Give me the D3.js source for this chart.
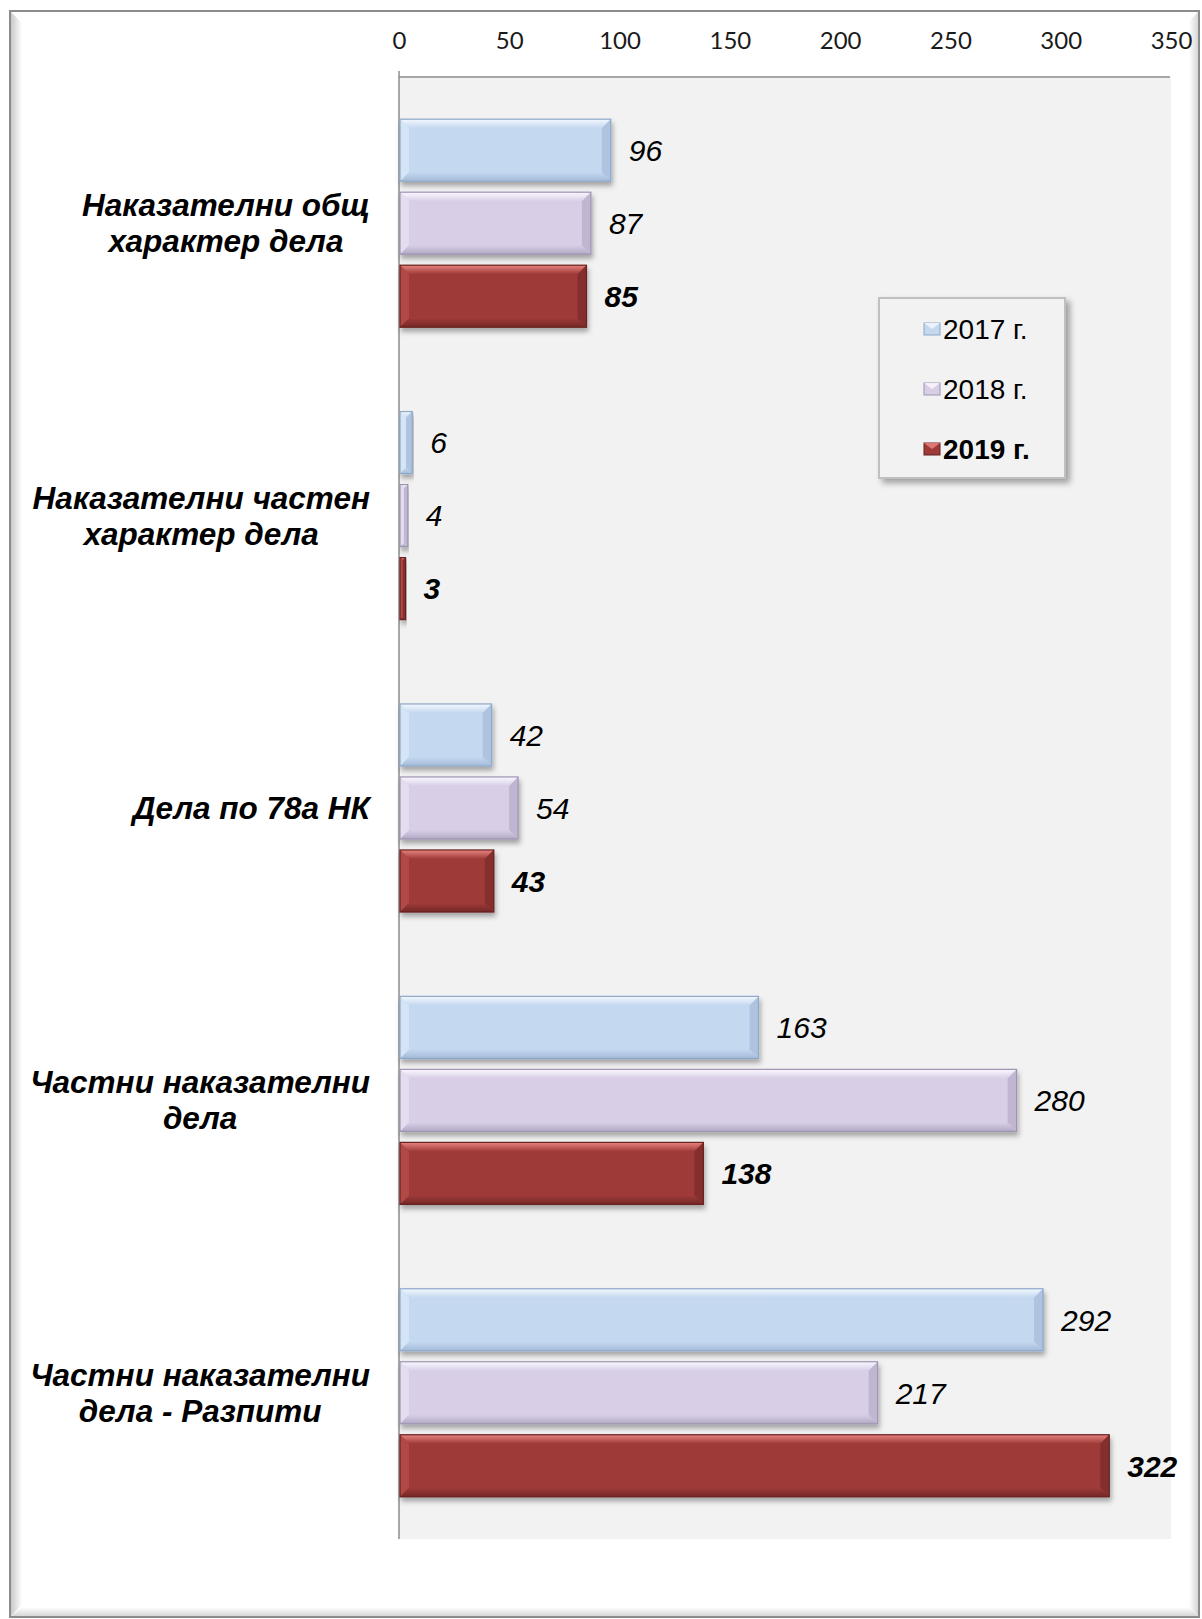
<!DOCTYPE html>
<html>
<head>
<meta charset="utf-8">
<script src="https://cdn.jsdelivr.net/npm/d3@7/dist/d3.min.js"></script>
<style>
  html, body { margin: 0; padding: 0; background: #ffffff; }
  svg { display: block; }
</style>
</head>
<body>
<svg id="chart" width="1202" height="1619"></svg>
<script>
// ---------- DATA ----------
const categories = [
  ["Наказателни общ", "характер дела"],
  ["Наказателни частен", "характер дела"],
  ["Дела по 78а НК"],
  ["Частни наказателни", "дела"],
  ["Частни наказателни", "дела - Разпити"]
];
const seriesNames = ["2017 г.", "2018 г.", "2019 г."];
const values2017 = [96, 6, 42, 163, 292];
const values2018 = [87, 4, 54, 280, 217];
const values2019 = [85, 3, 43, 138, 322];
const tickValues = [0, 50, 100, 150, 200, 250, 300, 350];

const seriesValues = [values2017, values2018, values2019];

// ---------- STYLE ----------
const FONT = "'Liberation Sans', Arimo, Arial, sans-serif";
const palette = [
  { main: "#c4d8f0", light: "#f3f8fe", left: "#d6e5f6", dark: "#a3bbd8", right: "#adc3df", stroke: "#8ea8c8" },
  { main: "#d8cfe7", light: "#fbf8ff", left: "#e4ddf0", dark: "#b2a8c4", right: "#c0b6d2", stroke: "#9e94b1" },
  { main: "#9e3b39", light: "#e8837f", left: "#b14a47", dark: "#742725", right: "#842f2d", stroke: "#672120" }
];

const svg = d3.select("#chart");

const defs = svg.append("defs");
const shadow = defs.append("filter").attr("id", "barShadow")
  .attr("x", "-5%").attr("y", "-20%").attr("width", "115%").attr("height", "150%");
shadow.append("feDropShadow").attr("dx", 1.5).attr("dy", 4).attr("stdDeviation", 2.5)
  .attr("flood-color", "#000").attr("flood-opacity", 0.32);

const legShadow = defs.append("filter").attr("id", "legShadow")
  .attr("x", "-10%").attr("y", "-10%").attr("width", "130%").attr("height", "130%");
legShadow.append("feDropShadow").attr("dx", 4).attr("dy", 4).attr("stdDeviation", 3)
  .attr("flood-color", "#000").attr("flood-opacity", 0.35);

palette.forEach((p, i) => {
  const g = defs.append("linearGradient").attr("id", "topGrad" + i)
    .attr("x1", 0).attr("y1", 0).attr("x2", 0).attr("y2", 1);
  g.append("stop").attr("offset", "0%").attr("stop-color", p.light);
  g.append("stop").attr("offset", "100%").attr("stop-color", p.main);
  const b = defs.append("linearGradient").attr("id", "botGrad" + i)
    .attr("x1", 0).attr("y1", 0).attr("x2", 0).attr("y2", 1);
  b.append("stop").attr("offset", "0%").attr("stop-color", p.main);
  b.append("stop").attr("offset", "100%").attr("stop-color", p.dark);
});

// frame gradients
const fgL = defs.append("linearGradient").attr("id", "frameL").attr("x1", 0).attr("x2", 1).attr("y1", 0).attr("y2", 0);
fgL.append("stop").attr("offset", "0%").attr("stop-color", "#c4c4c4");
fgL.append("stop").attr("offset", "100%").attr("stop-color", "#ffffff");
const fgR = defs.append("linearGradient").attr("id", "frameR").attr("x1", 0).attr("x2", 1).attr("y1", 0).attr("y2", 0);
fgR.append("stop").attr("offset", "0%").attr("stop-color", "#ffffff");
fgR.append("stop").attr("offset", "100%").attr("stop-color", "#d2d2d2");
const fgB = defs.append("linearGradient").attr("id", "frameB").attr("x1", 0).attr("x2", 0).attr("y1", 0).attr("y2", 1);
fgB.append("stop").attr("offset", "0%").attr("stop-color", "#ffffff");
fgB.append("stop").attr("offset", "100%").attr("stop-color", "#d2d2d2");

// ---------- FRAME ----------
const fx0 = 10, fy0 = 11, fx1 = 1199, fy1 = 1617;
svg.append("rect").attr("x", fx0).attr("y", fy0).attr("width", fx1 - fx0).attr("height", fy1 - fy0)
  .attr("fill", "#ffffff");
svg.append("polygon")
  .attr("points", [[fx0, fy0], [fx0 + 12, fy0 + 12], [fx0 + 12, fy1 - 12], [fx0, fy1]].join(" "))
  .attr("fill", "url(#frameL)");
svg.append("polygon")
  .attr("points", [[fx1, fy0], [fx1, fy1], [fx1 - 10, fy1 - 10], [fx1 - 10, fy0 + 10]].join(" "))
  .attr("fill", "url(#frameR)");
svg.append("polygon")
  .attr("points", [[fx0, fy1], [fx1, fy1], [fx1 - 10, fy1 - 10], [fx0 + 12, fy1 - 10]].join(" "))
  .attr("fill", "url(#frameB)");
svg.append("rect").attr("x", fx0).attr("y", fy0).attr("width", fx1 - fx0).attr("height", fy1 - fy0)
  .attr("fill", "none").attr("stroke", "#8c8c8c").attr("stroke-width", 2);

// ---------- SCALES ----------
const plotLeft = 399, plotRight = 1171, plotTop = 77, plotBottom = 1539;
const x = d3.scaleLinear().domain([0, 350]).range([plotLeft, plotRight]);
const yCat = d3.scaleBand().domain(d3.range(categories.length)).range([plotTop, plotBottom]);
const groupSpan = 219;
const ySer = d3.scaleBand().domain(d3.range(seriesNames.length))
  .range([0, groupSpan]).paddingInner(0.15).paddingOuter(0.075);

// plot area
svg.append("rect").attr("x", plotLeft).attr("y", plotTop)
  .attr("width", plotRight - plotLeft).attr("height", plotBottom - plotTop)
  .attr("fill", "#f2f2f2");

// axis (top)
const axis = d3.axisTop(x).tickValues(tickValues).tickSize(0).tickPadding(0);
const axG = svg.append("g").attr("transform", `translate(0, 49)`).call(axis);
axG.select(".domain").remove();
axG.selectAll("text")
  .attr("font-family", "Lato, 'Open Sans', sans-serif")
  .attr("font-size", 24).attr("fill", "#1a1a1a").attr("dy", 0);

svg.append("line").attr("x1", plotLeft).attr("x2", plotRight - 1).attr("y1", plotTop).attr("y2", plotTop)
  .attr("stroke", "#8c8c8c").attr("stroke-width", 1.5);
svg.append("line").attr("x1", plotLeft).attr("x2", plotLeft).attr("y1", plotTop - 6).attr("y2", plotBottom)
  .attr("stroke", "#8c8c8c").attr("stroke-width", 1.5);

// ---------- BARS ----------
function bevelBar(g, x0, y0, w, h, si) {
  const p = palette[si];
  const b = Math.min(9, w / 2, h / 2);
  const gg = g.append("g").attr("filter", "url(#barShadow)");
  gg.append("rect").attr("x", x0).attr("y", y0).attr("width", w).attr("height", h).attr("fill", p.main);
  gg.append("polygon").attr("points", [[x0, y0], [x0 + w, y0], [x0 + w - b, y0 + b], [x0 + b, y0 + b]].join(" "))
    .attr("fill", `url(#topGrad${si})`);
  gg.append("polygon").attr("points", [[x0, y0], [x0 + b, y0 + b], [x0 + b, y0 + h - b], [x0, y0 + h]].join(" "))
    .attr("fill", p.left);
  gg.append("polygon").attr("points", [[x0 + w, y0], [x0 + w, y0 + h], [x0 + w - b, y0 + h - b], [x0 + w - b, y0 + b]].join(" "))
    .attr("fill", p.right);
  gg.append("polygon").attr("points", [[x0, y0 + h], [x0 + w, y0 + h], [x0 + w - b, y0 + h - b], [x0 + b, y0 + h - b]].join(" "))
    .attr("fill", `url(#botGrad${si})`);
  gg.append("rect").attr("x", x0).attr("y", y0).attr("width", w).attr("height", h)
    .attr("fill", "none").attr("stroke", p.stroke).attr("stroke-width", 1.2);
}

const barsG = svg.append("g");
const labelsG = svg.append("g");
const labelRight = 370;
categories.forEach((cat, ci) => {
  const gTop = yCat(ci) + yCat.bandwidth() / 2 - groupSpan / 2;
  seriesValues.forEach((vals, si) => {
    const v = vals[ci];
    const y0 = gTop + ySer(si);
    const h = ySer.bandwidth();
    const x0 = x(0) + 1;
    const w = x(v) - x(0) - 1;
    bevelBar(barsG, x0, y0, w, h, si);
    labelsG.append("text")
      .attr("x", x(v) + 18).attr("y", y0 + h / 2)
      .attr("dy", "0.36em")
      .attr("font-family", FONT)
      .attr("font-size", 30).attr("font-style", "italic")
      .attr("font-weight", si === 2 ? "bold" : "normal")
      .attr("fill", "#000")
      .text(v);
  });
  // category label: block right-aligned, lines centered within block
  const cy = yCat(ci) + yCat.bandwidth() / 2;
  const t = svg.append("text")
    .attr("text-anchor", "middle")
    .attr("font-family", FONT)
    .attr("font-size", 31.5).attr("font-style", "italic").attr("font-weight", "bold")
    .attr("fill", "#000");
  const n = cat.length;
  const spans = cat.map((line, li) => t.append("tspan")
      .attr("y", cy + (li - (n - 1) / 2) * 36 + 11)
      .text(line));
  const maxW = d3.max(spans, s => s.node().getComputedTextLength());
  spans.forEach(s => s.attr("x", labelRight - maxW / 2));
});

// ---------- LEGEND ----------
const lg = svg.append("g");
lg.append("rect").attr("x", 879).attr("y", 298).attr("width", 186).attr("height", 180)
  .attr("fill", "#f2f2f2").attr("stroke", "#c0c0c0").attr("stroke-width", 2)
  .attr("filter", "url(#legShadow)");
const legY = d3.scaleBand().domain(d3.range(seriesNames.length)).range([298, 478]);
seriesNames.forEach((name, si) => {
  const cy = legY(si) + legY.bandwidth() / 2 + 1;
  const sx = 924, sw = 16, sh = 12;
  const p = palette[si];
  lg.append("rect").attr("x", sx).attr("y", cy - sh / 2).attr("width", sw).attr("height", sh)
    .attr("fill", p.main).attr("stroke", p.stroke).attr("stroke-width", 1);
  lg.append("polygon").attr("points", [[sx, cy - sh / 2], [sx + sw, cy - sh / 2], [sx + sw / 2, cy]].join(" "))
    .attr("fill", p.light).attr("opacity", 0.85);
  lg.append("text").attr("x", 943).attr("y", cy).attr("dy", "0.36em")
    .attr("font-family", FONT)
    .attr("font-size", 28).attr("font-weight", si === 2 ? "bold" : "normal")
    .attr("fill", "#000").text(name);
});
</script>
</body>
</html>
